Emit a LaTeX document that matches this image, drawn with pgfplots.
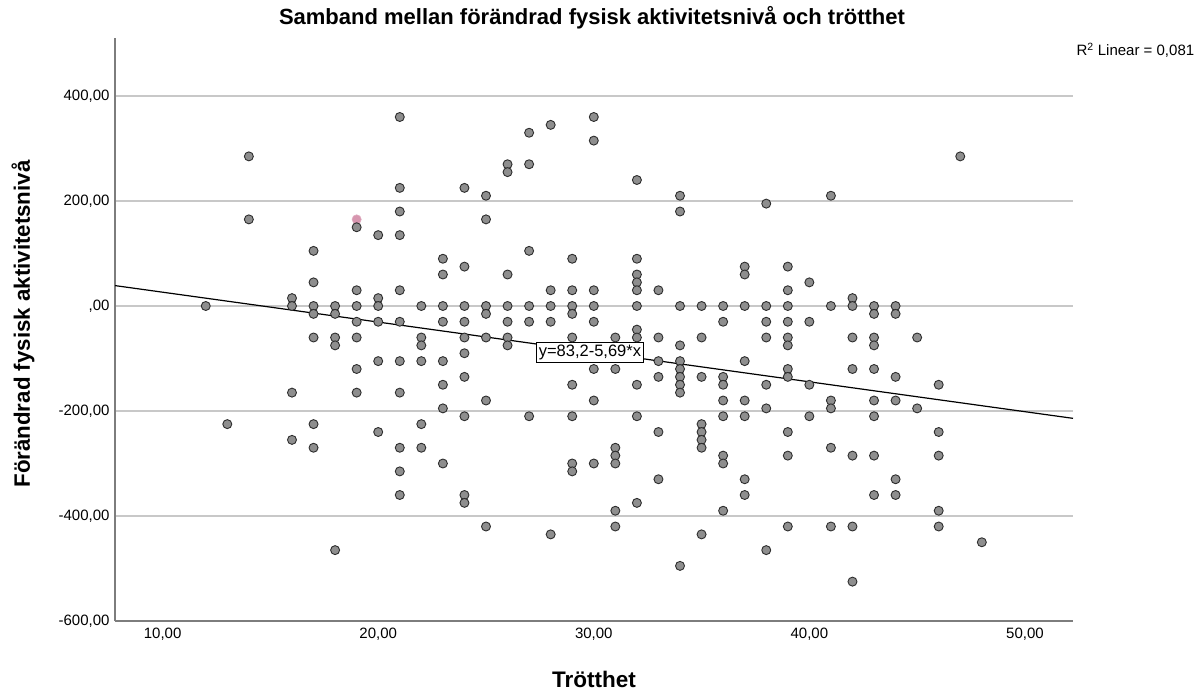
\documentclass[border=0pt]{standalone}
\usepackage{pgfplots}
\pgfplotsset{compat=1.18}
\usepackage{fontspec}
\setmainfont{Liberation Sans}
\definecolor{ptfill}{RGB}{142,142,142}
\definecolor{ptedge}{RGB}{45,45,45}
\definecolor{gridc}{RGB}{200,200,200}
\definecolor{axc}{RGB}{125,125,125}
\definecolor{pinkpt}{RGB}{215,150,175}
\pgfplotstableread{
x y
12 0
13 -225
14 285
14 165
16 15
16 0
16 -165
16 -255
17 105
17 45
17 0
17 -15
17 -60
17 -225
17 -270
18 0
18 -15
18 -60
18 -75
18 -465
19 150
19 30
19 0
19 -30
19 -60
19 -120
19 -165
20 135
20 15
20 0
20 -30
20 -105
20 -240
21 360
21 225
21 180
21 135
21 30
21 -30
21 -105
21 -165
21 -270
21 -315
21 -360
22 0
22 -60
22 -75
22 -105
22 -225
22 -270
23 90
23 60
23 0
23 -30
23 -105
23 -150
23 -195
23 -300
24 225
24 75
24 0
24 -30
24 -60
24 -90
24 -135
24 -210
24 -360
24 -375
25 210
25 165
25 0
25 -15
25 -60
25 -180
25 -420
26 270
26 255
26 60
26 0
26 -30
26 -60
26 -75
27 330
27 270
27 105
27 0
27 -30
27 -210
28 345
28 30
28 0
28 -30
28 -435
29 90
29 30
29 0
29 -15
29 -60
29 -150
29 -210
29 -300
29 -315
30 360
30 315
30 30
30 0
30 -30
30 -120
30 -180
30 -300
31 -60
31 -120
31 -270
31 -285
31 -300
31 -390
31 -420
32 240
32 90
32 60
32 45
32 30
32 0
32 -45
32 -60
32 -150
32 -210
32 -375
33 30
33 -60
33 -105
33 -135
33 -240
33 -330
34 210
34 180
34 0
34 -75
34 -105
34 -120
34 -135
34 -150
34 -165
34 -495
35 0
35 -60
35 -135
35 -225
35 -240
35 -255
35 -270
35 -435
36 0
36 -30
36 -135
36 -150
36 -180
36 -210
36 -285
36 -300
36 -390
37 75
37 60
37 0
37 -105
37 -180
37 -210
37 -330
37 -360
38 195
38 0
38 -30
38 -60
38 -150
38 -195
38 -465
39 75
39 30
39 0
39 -30
39 -60
39 -75
39 -120
39 -135
39 -240
39 -285
39 -420
40 45
40 -30
40 -150
40 -210
41 210
41 0
41 -180
41 -195
41 -270
41 -420
42 15
42 0
42 -60
42 -120
42 -285
42 -420
42 -525
43 0
43 -15
43 -60
43 -75
43 -120
43 -180
43 -210
43 -285
43 -360
44 0
44 -15
44 -135
44 -180
44 -330
44 -360
45 -60
45 -195
46 -150
46 -240
46 -285
46 -390
46 -420
47 285
48 -450
}\pts
\begin{document}
\begin{tikzpicture}[x=1pt,y=1pt]
\useasboundingbox (-115,-72) rectangle (1086,621);
\begin{axis}[
  at={(0,0)}, anchor=south west,
  scale only axis, width=958pt, height=583pt,
  xmin=7.79, xmax=52.23, ymin=-600, ymax=510.5,
  axis x line*=bottom, axis y line*=left,
  axis line style={axc, line width=1.3pt},
  xtick={10,20,30,40,50},
  xticklabels={{10,00},{20,00},{30,00},{40,00},{50,00}},
  ytick={-600,-400,-200,0,200,400},
  yticklabels={{-600,00},{-400,00},{-200,00},{,00},{200,00},{400,00}},
  major tick length=0pt,
  ymajorgrids, grid style={gridc, line width=1.4pt},
  tick label style={font=\fontsize{15}{17}\selectfont},
  xticklabel style={yshift=-3pt},
  yticklabel style={xshift=-2pt},
]
\addplot[only marks, mark=*, mark size=4.6pt,
  mark options={fill=pinkpt, draw=pinkpt!80!white, line width=0.6pt}]
  coordinates {(19,165)};
\addplot[only marks, mark=*, mark size=4.5pt,
  mark options={fill=ptfill, draw=ptedge, line width=0.9pt}]
  table[x=x, y=y] {\pts};
\addplot[black, line width=1.2pt] coordinates {(7.79,38.87) (52.23,-213.99)};
\node[draw=black, fill=white, line width=0.8pt, inner sep=2.5pt,
  font=\fontsize{16.5}{18}\selectfont] at (axis cs:29.82,-88.6) {y=83,2-5,69*x};
\end{axis}
\node[font=\fontsize{22}{26}\selectfont\bfseries] at (477,603) {Samband mellan förändrad fysisk aktivitetsnivå och trötthet};
\node[font=\fontsize{15}{17}\selectfont, anchor=west] at (958,571) {R\textsuperscript{2} Linear = 0,081};
\node[font=\fontsize{22.3}{26}\selectfont\bfseries, rotate=90] at (-92,297) {Förändrad fysisk aktivitetsnivå};
\node[font=\fontsize{22.5}{26}\selectfont\bfseries] at (479,-58) {Trötthet};
\end{tikzpicture}
\end{document}
